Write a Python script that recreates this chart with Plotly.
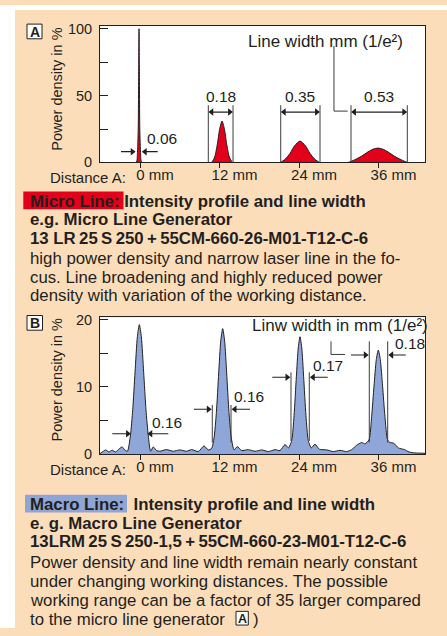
import plotly.graph_objects as go

W, H = 447, 636
PEACH = "#FCDDBA"
RED = "#E2001A"
BLUE = "#8FA7D8"
BLUEBOX = "#8FA5D6"
INK = "#231F20"
GREY = "#3C3C3C"
FONT = "Liberation Sans"

# ---------------- data ----------------
x_ticks = [0, 12, 24, 36]
x_tick_labels = ["0 mm", "12 mm", "24 mm", "36 mm"]

# Panel A: micro line generator, power density in % versus position
a_x = [-6.04,
       -0.57, -0.40, -0.27, -0.20, -0.15, -0.10, -0.03, 0.10, 0.27,
       10.78, 11.28, 11.68, 12.03, 12.38, 12.73, 13.08, 13.48, 13.98,
       21.15, 21.95, 22.65, 23.35, 24.15, 24.95, 25.65, 26.35, 27.15,
       31.42, 32.42, 33.42, 34.42, 35.22, 35.92, 36.62, 37.42, 38.42, 39.42, 40.42,
       43.02]
a_y = [0,
       0, 6, 25, 70, 100, 70, 25, 6, 0,
       0, 4.2, 13.8, 25.3, 31, 25.3, 13.8, 4.2, 0,
       0, 2.6, 6.8, 12.6, 16, 12.6, 6.8, 2.6, 0,
       0, 2.0, 4.6, 7.9, 10.0, 10.7, 10.0, 7.9, 4.6, 2.0, 0,
       0]
a_major_ticks = [0, 50, 100]
a_minor_ticks = [25, 75]
a_widths = ["0.06", "0.18", "0.35", "0.53"]

# Panel B: macro line generator
b_x = [-6.04, -5.6, -5.2, -4.7, -4.2, -3.7, -3.1, -2.7, -2.3, -1.9,
       -1.45, -1.1, -0.75, -0.4, -0.1, 0.2, 0.55, 0.9, 1.25,
       1.6, 2.0, 2.5, 3.0, 4.0, 5.0, 6.0, 7.0, 7.8, 8.8, 9.66, 10.3, 10.8,
       11.18, 11.53, 11.88, 12.18, 12.48, 12.78, 13.08, 13.43, 13.78,
       14.2, 14.69, 15.35, 16.35, 17.36, 18.37, 19.37, 20.38, 21.13, 21.89, 22.4,
       22.9, 23.25, 23.6, 23.88, 24.15, 24.42, 24.7, 25.05, 25.4,
       25.85, 26.42, 27.07, 28.18, 29.18, 30.19, 31.2, 31.95, 32.71, 33.46, 33.95,
       34.57, 34.97, 35.32, 35.67, 35.97, 36.27, 36.62, 36.97, 37.37,
       37.74, 38.3, 39.0, 39.9, 40.6, 41.5, 43.02]
b_y = [0.05, 0.35, 0.6, 0.3, 0.55, 0.3, 0.8, 1.05, 0.6, 0.4,
       2.7, 6.6, 12.2, 17.5, 19.3, 17.5, 12.2, 6.6, 2.7,
       0.4, 1.05, 0.5, 0.4, 0.65, 0.4, 0.6, 0.4, 0.65, 0.35, 1.2, 0.6, 0.8,
       2.4, 6.2, 12.1, 16.8, 18.7, 16.8, 12.1, 6.2, 2.4,
       0.6, 1.1, 0.5, 0.64, 0.4, 0.6, 0.35, 0.64, 0.5, 1.4, 0.9,
       2.0, 5.7, 11.5, 15.8, 17.5, 15.8, 11.5, 5.7, 2.0,
       0.9, 1.45, 0.7, 0.6, 0.35, 0.54, 0.35, 0.64, 1.3, 1.7, 1.5,
       2.1, 5.6, 10.1, 14.1, 15.5, 14.1, 10.1, 5.6, 2.1,
       1.7, 1.6, 0.9, 0.65, 0.3, 0.15, 0.1]
b_major_ticks = [0, 10, 20]
b_minor_ticks = [5, 15]
b_widths = ["0.16", "0.16", "0.17", "0.18"]

# ---------------- helpers ----------------
def PX(x):
    return x / W

def PY(y):
    return 1 - y / H

fig = go.Figure()
fig.add_trace(go.Scatter(x=a_x, y=a_y, mode="lines", xaxis="x", yaxis="y",
                         line=dict(color=INK, width=1, shape="spline", smoothing=0.6),
                         fill="tozeroy", fillcolor=RED, hoverinfo="skip", showlegend=False))
fig.add_trace(go.Scatter(x=b_x, y=b_y, mode="lines", xaxis="x2", yaxis="y2",
                         line=dict(color=INK, width=1, shape="spline", smoothing=0.6),
                         fill="tozeroy", fillcolor=BLUE, hoverinfo="skip", showlegend=False))

xdom = [PX(100), PX(425)]
xr = [-6.04, 43.02]
common_x = dict(domain=xdom, range=xr, showline=True, linecolor=INK, linewidth=1, mirror=True,
                ticks="outside", ticklen=5, tickcolor=INK, tickvals=x_ticks, ticktext=x_tick_labels,
                showticklabels=True, tickfont=dict(family=FONT, size=15, color=INK),
                ticklabelshift=15, ticklabelstandoff=-6, tickangle=0,
                showgrid=False, zeroline=False, fixedrange=True)
common_y = dict(showline=True, linecolor=INK, linewidth=1, mirror=True, ticks="inside", ticklen=8,
                tickcolor=INK, tickfont=dict(family=FONT, size=14.5, color=INK), showgrid=False,
                zeroline=False, ticklabelstandoff=4, fixedrange=True)

fig.update_layout(
    width=W, height=H, margin=dict(l=0, r=0, t=0, b=0),
    paper_bgcolor=PEACH, plot_bgcolor="white",
    font=dict(family=FONT, color=INK),
    xaxis=dict(anchor="y", **common_x),
    yaxis=dict(anchor="x", domain=[PY(160.7), PY(21)], range=[0, 102.4],
               tickvals=a_major_ticks,
               minor=dict(tickvals=a_minor_ticks, ticks="inside", ticklen=8, tickcolor=INK, showgrid=False),
               **common_y),
    xaxis2=dict(anchor="y2", **common_x),
    yaxis2=dict(anchor="x2", domain=[PY(458.3), PY(319)], range=[0, 20.37],
                tickvals=b_major_ticks,
                minor=dict(tickvals=b_minor_ticks, ticks="inside", ticklen=8, tickcolor=INK, showgrid=False),
                **common_y),
)

shapes = []
ann = []
heads = {"x": ([], [], []), "x2": ([], [], [])}

# white margins outside the peach card
shapes.append(dict(type="rect", xref="paper", yref="paper", x0=0, x1=PX(15), y0=0, y1=1,
                   fillcolor="white", line=dict(width=0), layer="below"))
shapes.append(dict(type="rect", xref="paper", yref="paper", x0=0, x1=1, y0=PY(5), y1=1,
                   fillcolor="white", line=dict(width=0), layer="below"))

def vline(xref, yref, x, y0, y1, color=GREY, w=1):
    shapes.append(dict(type="line", xref=xref, yref=yref, x0=x, x1=x, y0=y0, y1=y1,
                       line=dict(color=color, width=w)))

def hline(xref, yref, x0, x1, y, color=INK, w=1.2):
    shapes.append(dict(type="line", xref=xref, yref=yref, x0=x0, x1=x1, y0=y, y1=y,
                       line=dict(color=color, width=w)))

HEAD_OFF = 0.5  # arrow-head centre distance from its tip, in x units

def head(xref, tip, y, right):
    hx, hy, hs = heads[xref]
    hx.append(tip - HEAD_OFF if right else tip + HEAD_OFF)
    hy.append(y)
    hs.append("triangle-right" if right else "triangle-left")

def arrow(xref, yref, tail, tip, y):
    right = tip > tail
    hline(xref, yref, tail, tip - (0.4 if right else -0.4), y)
    head(xref, tip, y, right)

def text(x, y, s, size, xanchor="left", bold=False, xref="paper", yref="paper", **kw):
    if bold:
        s = "<b>" + s + "</b>"
    ann.append(dict(xref=xref, yref=yref, x=x, y=y, text=s, showarrow=False,
                    xanchor=xanchor, yanchor="middle",
                    font=dict(family=FONT, size=size, color=INK), **kw))

# ---- panel A annotations ----
arrow("x", "y", -2.87, -0.65, 8.06)
arrow("x", "y", 2.67, 0.26, 8.06)
text(PX(145), PY(136.5), a_widths[0], 15.5)
for (x0, x1), lab in zip([(10.31, 14.04), (21.24, 27.17), (31.85, 40.35)], a_widths[1:]):
    vline("x", "y", x0, 0, 42.8)
    vline("x", "y", x1, 0, 42.8)
    arrow("x", "y", x0 + 0.4, x1, 37.7)
    head("x", x0, 37.7, False)
    text((x0 + x1) / 2, 49.6, lab, 15.5, xanchor="center", xref="x", yref="y")
vline("x", "y", 29.28, 38.4, 87.2)
shapes.append(dict(type="line", xref="x", yref="y", x0=29.28, x1=31.35, y0=38.4, y1=38.4,
                   line=dict(color=GREY, width=1)))
text(PX(246), PY(37), "Line width mm (1/e\u00b2)", 17)

# ---- panel B annotations ----
arrow("x2", "y2", -4.18, -1.36, 3.01)
arrow("x2", "y2", 4.27, 1.10, 3.01)
text(PX(150), PY(426.7), b_widths[0], 15.5)
b_br = [(10.91, 13.74, 7.31, 1.70, 6.67, 8.15, 16.6, 232.3, 400),
        (22.79, 25.55, 12.18, 1.94, 11.45, 19.97, 28.33, 311, 368.3),
        (34.61, 37.39, 16.81, 1.70, 14.77, 31.85, 40.11, 393.3, 345.3)]
for (x0, x1, top, bot, ya, tl, tr, lx, ly), lab in zip(b_br, b_widths[1:]):
    vline("x2", "y2", x0, bot, top)
    vline("x2", "y2", x1, bot, top)
    arrow("x2", "y2", tl, x0 - 0.08, ya)
    arrow("x2", "y2", tr, x1 + 0.08, ya)
    text(PX(lx), PY(ly), lab, 15.5)
vline("x2", "y2", 28.83, 14.85, 16.81)
shapes.append(dict(type="line", xref="x2", yref="y2", x0=28.83, x1=30.94, y0=14.85, y1=14.85,
                   line=dict(color=GREY, width=1)))
text(PX(250), PY(327.5), "Linw width in mm (1/e\u00b2)", 17)

# arrow heads as triangle markers
for xa, ya_ in (("x", "y"), ("x2", "y2")):
    hx, hy, hs = heads[xa]
    fig.add_trace(go.Scatter(x=hx, y=hy, mode="markers", xaxis=xa, yaxis=ya_, cliponaxis=False,
                             marker=dict(symbol=hs, size=6.5, color=INK, line=dict(width=0)),
                             hoverinfo="skip", showlegend=False))

# ---- axis titles / distance labels ----
for yc in (85.8, 382.5):
    text(PX(56.7), PY(yc), "Power density in %", 14.5, xanchor="center", textangle=-90)
for yc in (176.3, 474.3):
    text(PX(48), PY(yc), "Distance A:", 15)

# ---- panel letter boxes ----
for (x0, y0, x1, y1, letter, fs) in ((27, 19.5, 42, 34.5, "A", 14), (27, 317, 42.5, 332, "B", 14),
                                     (236, 619, 248.3, 633, "A", 12.5)):
    shapes.append(dict(type="rect", xref="paper", yref="paper", x0=PX(x0), x1=PX(x1),
                       y0=PY(y1), y1=PY(y0), fillcolor="white", line=dict(color=INK, width=1)))
    text(PX((x0 + x1) / 2), PY((y0 + y1) / 2 + 0.5), letter, fs, xanchor="center", bold=True)

# ---- text blocks ----
shapes.append(dict(type="rect", xref="paper", yref="paper", x0=PX(23.3), x1=PX(123.5),
                   y0=PY(208.5), y1=PY(190.5), fillcolor=RED, line=dict(width=0), layer="below"))
shapes.append(dict(type="rect", xref="paper", yref="paper", x0=PX(25), x1=PX(127),
                   y0=PY(518), y1=PY(500), fillcolor=BLUEBOX, line=dict(width=0), layer="below"))

TS = "\u2009"
BF, RF = 16.8, 16.8
text(PX(28), PY(200.5), "Micro Line: Intensity profile and line width", BF, bold=True)
text(PX(28), PY(219.2), "e.g. Micro Line Generator", BF, bold=True)
text(PX(28), PY(237.9), "13 LR" + TS + "25" + TS + "S" + TS + "250" + TS + "+" + TS + "55CM-660-26-M01-T12-C-6", BF, bold=True)
text(PX(28), PY(259), "high power density and narrow laser line in the fo-", RF)
text(PX(28), PY(277.7), "cus. Line broadening and highly reduced power", RF)
text(PX(28), PY(296.4), "density with variation of the working distance.", RF)

text(PX(28), PY(510), "Macro Line:\u00a0\u00a0Intensity profile and line width", BF, bold=True)
text(PX(28), PY(529), "e. g. Macro Line Generator", BF, bold=True)
text(PX(28), PY(548), "13LRM" + TS + "25" + TS + "S" + TS + "250-1,5" + TS + "+" + TS + "55CM-660-23-M01-T12-C-6", BF, bold=True)
text(PX(28), PY(569), "Power density and line width remain nearly constant", RF)
text(PX(28), PY(588.5), "under changing working distances. The possible", RF)
text(PX(28), PY(608), "working range can be a factor of 35 larger compared", RF)
text(PX(28), PY(627), "to the micro line generator", RF)
text(PX(251), PY(627), ")", RF)

fig.update_layout(shapes=shapes, annotations=ann)
fig.write_html("out.html")
